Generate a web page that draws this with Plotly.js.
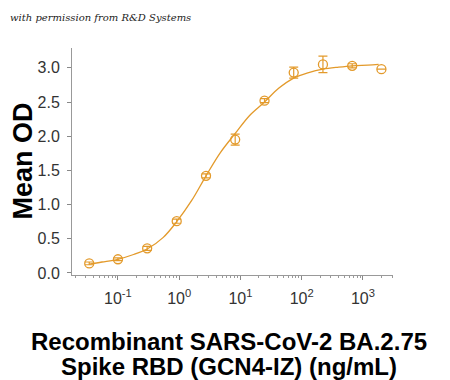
<!DOCTYPE html>
<html>
<head>
<meta charset="utf-8">
<script src="https://cdn.plot.ly/plotly-3.0.1.min.js"></script>
<style>html,body{margin:0;padding:0;background:#fff;}#chart{width:450px;height:380px;}</style>
</head>
<body>
<div id="chart"></div>
<script>
// Data
var concentrations = [0.034, 0.1, 0.3, 0.91, 2.74, 8.2, 24.7, 74, 222, 667, 2000];
var meanOD = [0.14, 0.20, 0.36, 0.757, 1.42, 1.95, 2.52, 2.93, 3.05, 3.03, 2.98];
var errOD = [0.02, 0.02, 0.03, 0.03, 0.03, 0.08, 0.03, 0.08, 0.12, 0.03, 0];
// Fitted curve
var curveX = [0.034, 0.055, 0.1, 0.18, 0.3, 0.55, 0.91, 1.6, 2.74, 4.7, 8.2, 14, 24.7, 42, 74, 130, 222, 400, 667, 1200, 1800];
var curveY = [0.13, 0.16, 0.20, 0.27, 0.35, 0.52, 0.75, 1.06, 1.42, 1.76, 2.04, 2.30, 2.50, 2.70, 2.85, 2.93, 2.98, 3.01, 3.03, 3.04, 3.05];
var xTickVals = [0.1, 1, 10, 100, 1000];
var xTickText = ['10<sup>-1</sup>', '10<sup>0</sup>', '10<sup>1</sup>', '10<sup>2</sup>', '10<sup>3</sup>'];
var yTickVals = [0, 0.5, 1, 1.5, 2, 2.5, 3];
var xTitleLines = ['Recombinant SARS-CoV-2 BA.2.75', 'Spike RBD (GCN4-IZ) (ng/mL)'];
var yTitle = 'Mean OD';
var watermark = 'with permission from R&amp;D Systems';

var minorVals = [];
[0.01, 0.1, 1, 10, 100, 1000].forEach(function(d){
  for (var k = 2; k <= 9; k++) minorVals.push(d * k);
});

var col = '#e39a2b';
var traces = [
  {x: curveX, y: curveY, type: 'scatter', mode: 'lines', line: {color: col, width: 1.3, shape: 'spline'}, hoverinfo: 'skip'},
  {x: concentrations, y: meanOD, type: 'scatter', mode: 'markers',
   marker: {symbol: 'circle-open', size: 9, color: col, line: {width: 1.3, color: col}},
   error_y: {type: 'data', array: errOD, visible: true, color: col, thickness: 1.2, width: 4.5}}
];

var titleFont = {family: 'Liberation Sans, Arial, sans-serif', color: '#000', weight: 'bold'};
var layout = {
  width: 450, height: 380,
  margin: {l: 72, r: 57, t: 48, b: 105},
  paper_bgcolor: '#fff', plot_bgcolor: '#fff',
  showlegend: false,
  xaxis: {
    type: 'log', range: [-1.75, 3.49],
    tickmode: 'array', tickvals: xTickVals, ticktext: xTickText,
    ticks: 'outside', ticklen: 4, tickcolor: '#888', tickwidth: 1,
    ticklabelstandoff: 5,
    showline: true, linecolor: '#999', linewidth: 1,
    showgrid: false, zeroline: false,
    tickfont: {family: 'Liberation Sans Narrow, Arial Narrow, sans-serif', size: 16, color: '#333'},
    minor: {tickmode: 'array', tickvals: minorVals, ticks: 'outside', ticklen: 2, tickcolor: '#999', showgrid: false}
  },
  yaxis: {
    range: [-0.03, 3.29],
    tickmode: 'array', tickvals: yTickVals, tickformat: '.1f',
    ticks: 'outside', ticklen: 4, tickcolor: '#888', tickwidth: 1,
    ticklabelstandoff: 4,
    showline: true, linecolor: '#999', linewidth: 1,
    showgrid: false, zeroline: false,
    tickfont: {family: 'Liberation Sans Narrow, Arial Narrow, sans-serif', size: 16, color: '#333'}
  },
  annotations: [
    {text: '<i>' + watermark + '</i>', xref: 'paper', yref: 'paper',
     x: 0, y: 1, xanchor: 'left', yanchor: 'middle', xshift: -64, yshift: 31, showarrow: false,
     font: {family: 'DejaVu Serif, serif', size: 10, color: '#222'}},
    {text: xTitleLines[0], xref: 'paper', yref: 'paper', x: 0.5, y: 0, xanchor: 'center', yanchor: 'middle',
     xshift: -4, yshift: -66, showarrow: false, font: Object.assign({size: 24}, titleFont)},
    {text: xTitleLines[1], xref: 'paper', yref: 'paper', x: 0.5, y: 0, xanchor: 'center', yanchor: 'middle',
     xshift: -4, yshift: -91, showarrow: false, font: Object.assign({size: 24}, titleFont)},
    {text: yTitle, xref: 'paper', yref: 'paper', x: 0, y: 0.5, xanchor: 'center', yanchor: 'middle',
     xshift: -50, showarrow: false, textangle: -90, font: Object.assign({size: 27}, titleFont)}
  ]
};

Plotly.newPlot('chart', traces, layout, {displayModeBar: false, staticPlot: true});
</script>
</body>
</html>
